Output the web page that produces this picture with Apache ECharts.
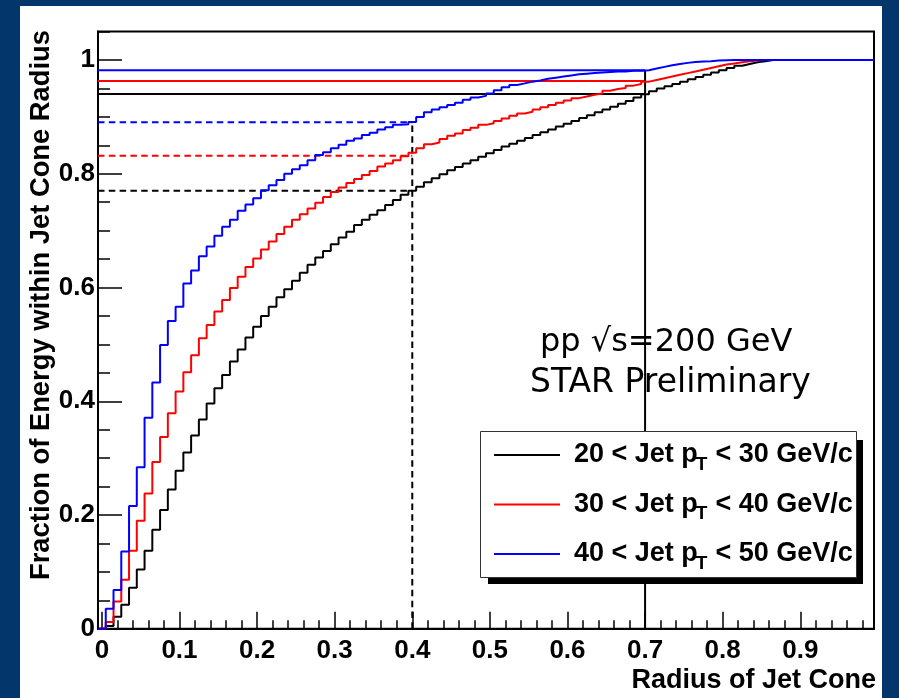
<!DOCTYPE html>
<html>
<head>
<meta charset="utf-8">
<script src="https://cdn.jsdelivr.net/npm/echarts@6/dist/echarts.min.js"></script>
<style>
html,body{margin:0;padding:0;background:#03366a;}
#chart{width:899px;height:698px;}
</style>
</head>
<body>
<div id="chart"></div>
<script>
// ---- data (bin i is centred at R = i*0.01, width 0.01) ----
const binWidth = 0.01;
const firstBinCenter = 0.0;
const jet20to30 = [
 0.000,0.005,0.021,0.042,0.072,0.104,0.137,0.174,0.209,0.245,
 0.278,0.310,0.340,0.368,0.396,0.423,0.446,0.470,0.491,0.512,
 0.531,0.550,0.566,0.583,0.597,0.612,0.626,0.640,0.653,0.664,
 0.676,0.688,0.698,0.710,0.719,0.728,0.736,0.745,0.754,0.763,
 0.770,0.777,0.785,0.792,0.799,0.806,0.812,0.818,0.824,0.830,
 0.836,0.842,0.848,0.853,0.858,0.863,0.868,0.873,0.878,0.883,
 0.888,0.893,0.898,0.903,0.908,0.913,0.918,0.923,0.928,0.934,
 0.940,0.945,0.950,0.954,0.958,0.962,0.966,0.970,0.974,0.978,
 0.982,0.986,0.990,0.993,0.996,0.998,1.000,1.000,1.000,1.000,
 1.000,1.000,1.000,1.000,1.000,1.000,1.000,1.000,1.000,1.000
];
const jet30to40 = [
 0.000,0.012,0.048,0.086,0.137,0.190,0.238,0.293,0.337,0.379,
 0.417,0.451,0.481,0.511,0.534,0.558,0.578,0.599,0.619,0.636,
 0.651,0.667,0.681,0.694,0.707,0.719,0.729,0.739,0.749,0.759,
 0.768,0.776,0.784,0.791,0.798,0.805,0.813,0.818,0.824,0.831,
 0.837,0.845,0.852,0.855,0.861,0.867,0.871,0.877,0.881,0.886,
 0.889,0.893,0.897,0.902,0.906,0.909,0.913,0.917,0.921,0.925,
 0.929,0.933,0.936,0.939,0.941,0.946,0.949,0.951,0.955,0.958,
 0.962,0.965,0.968,0.971,0.974,0.977,0.980,0.983,0.986,0.989,
 0.992,0.994,0.996,0.998,0.999,1.000,1.000,1.000,1.000,1.000,
 1.000,1.000,1.000,1.000,1.000,1.000,1.000,1.000,1.000,1.000
];
const jet40to50 = [
 0.000,0.035,0.068,0.136,0.216,0.284,0.371,0.433,0.499,0.541,
 0.566,0.607,0.630,0.655,0.672,0.691,0.707,0.719,0.735,0.746,
 0.757,0.771,0.780,0.789,0.800,0.808,0.815,0.824,0.833,0.838,
 0.845,0.851,0.858,0.862,0.868,0.872,0.878,0.882,0.886,0.887,
 0.891,0.900,0.908,0.913,0.917,0.921,0.925,0.930,0.934,0.937,
 0.941,0.947,0.952,0.956,0.959,0.962,0.964,0.967,0.969,0.971,
 0.973,0.975,0.976,0.977,0.978,0.979,0.980,0.980,0.981,0.981,
 0.982,0.985,0.988,0.991,0.993,0.995,0.9965,0.9975,0.998,0.999,
 0.9995,1.000,1.000,1.000,1.000,1.000,1.000,1.000,1.000,1.000,
 1.000,1.000,1.000,1.000,1.000,1.000,1.000,1.000,1.000,1.000
];
const seriesHeads = ['20 < Jet p', '30 < Jet p', '40 < Jet p'];
const seriesTails = ['< 30 GeV/c', '< 40 GeV/c', '< 50 GeV/c'];
const seriesColors = ['#000000', '#ff0000', '#0000ff'];
// fraction reached at R = 0.7 (solid) and R = 0.4 (dashed)
const levelAt07 = [0.9402, 0.9630, 0.9819];
const levelAt04 = [0.7702, 0.8317, 0.8905];
const markR = [0.4, 0.7];
const xTicks = [0, 0.1, 0.2, 0.3, 0.4, 0.5, 0.6, 0.7, 0.8, 0.9];
const yTicks = [0, 0.2, 0.4, 0.6, 0.8, 1.0];
const xMinorTicks = [0.02,0.04,0.06,0.08,0.12,0.14,0.16,0.18,0.22,0.24,0.26,0.28,0.32,0.34,0.36,0.38,
  0.42,0.44,0.46,0.48,0.52,0.54,0.56,0.58,0.62,0.64,0.66,0.68,0.72,0.74,0.76,0.78,0.82,0.84,0.86,0.88,0.92,0.94,0.96,0.98];
const yMinorTicks = [0.05,0.1,0.15,0.25,0.3,0.35,0.45,0.5,0.55,0.65,0.7,0.75,0.85,0.9,0.95,1.05];
const xTitle = 'Radius of Jet Cone';
const yTitle = 'Fraction of Energy within Jet Cone Radius';
const noteLines = ['pp \u221As=200 GeV', 'STAR Preliminary'];

const xMin = firstBinCenter - binWidth/2;
const xMax = xMin + binWidth*100;

function histData(vals){
  const d = vals.map((v,i)=>[xMin + i*binWidth, v]);
  d.push([xMin + vals.length*binWidth, vals[vals.length-1]]);
  return d;
}
const fmt = v => (Math.abs(v) < 1e-9 ? '0' : (Math.abs(v-1) < 1e-9 ? '1' : v.toFixed(1)));
const FONT = '"Liberation Sans", Arial, Helvetica, sans-serif';

const chart = echarts.init(document.getElementById('chart'), null, {renderer:'canvas'});
const allVals = [jet20to30, jet30to40, jet40to50];

const series = [];
allVals.forEach((vals, i) => {
  series.push({type:'line', xAxisIndex:0, yAxisIndex:0, step:'end', showSymbol:false, symbol:'none',
    data: histData(vals), lineStyle:{color:seriesColors[i], width:2}, z: 3+i, silent:true});
});
levelAt07.forEach((v,i)=>{
  series.push({type:'line', xAxisIndex:0, yAxisIndex:0, showSymbol:false, symbol:'none',
    data:[[xMin, v],[markR[1], v]], lineStyle:{color:seriesColors[i], width:2}, z:2, silent:true});
});
levelAt04.forEach((v,i)=>{
  series.push({type:'line', xAxisIndex:0, yAxisIndex:0, showSymbol:false, symbol:'none',
    data:[[xMin, v],[markR[0], v]], lineStyle:{color:seriesColors[i], width:2, type:[6.5,4.3]}, z:2, silent:true});
});
series.push({type:'line', showSymbol:false, symbol:'none',
  data:[[markR[0],0],[markR[0],Math.max(...levelAt04)]], lineStyle:{color:'#000', width:2, type:[6.5,4.3]}, z:2, silent:true});
series.push({type:'line', showSymbol:false, symbol:'none',
  data:[[markR[1],0],[markR[1],Math.max(...levelAt07)]], lineStyle:{color:'#000', width:2}, z:2, silent:true});

const measure = document.createElement('canvas').getContext('2d');
const TITLE_FONT = 'bold 27px ' + FONT;
measure.font = TITLE_FONT;
const yTitleLen = 550;
const yTitleFs = 27 * yTitleLen / measure.measureText(yTitle).width;

const graphics = [
  {type:'rect', shape:{x:20, y:6, width:862, height:692}, style:{fill:'#ffffff'}, z:-10},
  {type:'rect', shape:{x:488, y:440, width:375, height:144}, style:{fill:'#000'}, z:10},
  {type:'rect', shape:{x:480.5, y:431.5, width:376, height:146}, style:{fill:'#fff', stroke:'#333', lineWidth:1}, z:11},
  {type:'text', x:41, y:30, rotation:Math.PI/2, z:12,
    style:{text:yTitle, font:'bold '+yTitleFs.toFixed(2)+'px '+FONT, fill:'#000', align:'right', verticalAlign:'middle'}},
  {type:'text', x:876, y:681, z:12,
    style:{text:xTitle, font:TITLE_FONT, fill:'#000', align:'right', verticalAlign:'middle'}},
  {type:'text', x:540, y:343, z:12,
    style:{text:noteLines[0], font:'32px "DejaVu Sans", sans-serif', fill:'#000', align:'left', verticalAlign:'middle'}},
  {type:'text', x:530, y:383, z:12,
    style:{text:noteLines[1], font:'33px "DejaVu Sans", sans-serif', fill:'#000', align:'left', verticalAlign:'middle'}}
];
// legend built by hand (ROOT style box with shadow)
const legRows = [455, 504.5, 554];
const legFont = 'bold 27px ' + FONT;
const subFont = 'bold 19px ' + FONT;
seriesHeads.forEach((nm,i)=>{
  const y = legRows[i];
  graphics.push({type:'line', shape:{x1:494, y1:y, x2:560, y2:y}, style:{stroke:seriesColors[i], lineWidth:2}, z:12});
  measure.font = legFont;
  const wHead = measure.measureText(nm).width;
  measure.font = subFont;
  const wSub = measure.measureText('T').width;
  const x0 = 574;
  graphics.push({type:'text', x:x0, y:y, z:12, style:{text:nm, font:legFont, fill:'#000', align:'left', verticalAlign:'middle'}});
  graphics.push({type:'text', x:x0+wHead-2, y:y+9.5, z:12, style:{text:'T', font:subFont, fill:'#000', align:'left', verticalAlign:'middle'}});
  graphics.push({type:'text', x:x0+wHead-2+wSub+8, y:y, z:12, style:{text:seriesTails[i], font:legFont, fill:'#000', align:'left', verticalAlign:'middle'}});
});

const gridPos = {left:98, right:25, top:31.6, bottom:69.25};
chart.setOption({
  animation:false,
  backgroundColor:'#03366a',
  grid:{...gridPos, show:true, borderColor:'#000', borderWidth:2, backgroundColor:'#fff', containLabel:false},
  xAxis:[
    {type:'value', min:xMin, max:xMax, position:'bottom',
     axisLine:{show:true, onZero:false, lineStyle:{color:'#000', width:2}},
     axisTick:{show:true, inside:true, length:17, customValues:xTicks, lineStyle:{color:'#000', width:1.5}},
     axisLabel:{show:true, customValues:xTicks, formatter:fmt, margin:9, color:'#000', fontFamily:FONT, fontWeight:'bold', fontSize:26},
     splitLine:{show:false}},
    {type:'value', min:xMin, max:xMax, position:'bottom',
     axisLine:{show:false, onZero:false},
     axisTick:{show:true, inside:true, length:8.5, customValues:xMinorTicks, lineStyle:{color:'#000', width:1.5}},
     axisLabel:{show:false}, splitLine:{show:false}}
  ],
  yAxis:[
    {type:'value', min:0, max:1.05, position:'left',
     axisLine:{show:true, onZero:false, lineStyle:{color:'#000', width:2}},
     axisTick:{show:true, inside:true, length:24, customValues:yTicks, lineStyle:{color:'#000', width:1.5}},
     axisLabel:{show:true, customValues:yTicks, formatter:fmt, margin:3, color:'#000', fontFamily:FONT, fontWeight:'bold', fontSize:26, padding:[10,0,0,0]},
     splitLine:{show:false}},
    {type:'value', min:0, max:1.05, position:'left',
     axisLine:{show:false, onZero:false},
     axisTick:{show:true, inside:true, length:12, customValues:yMinorTicks, lineStyle:{color:'#000', width:1.5}},
     axisLabel:{show:false}, splitLine:{show:false}}
  ],
  series: series,
  graphic: graphics
});
</script>
</body>
</html>
